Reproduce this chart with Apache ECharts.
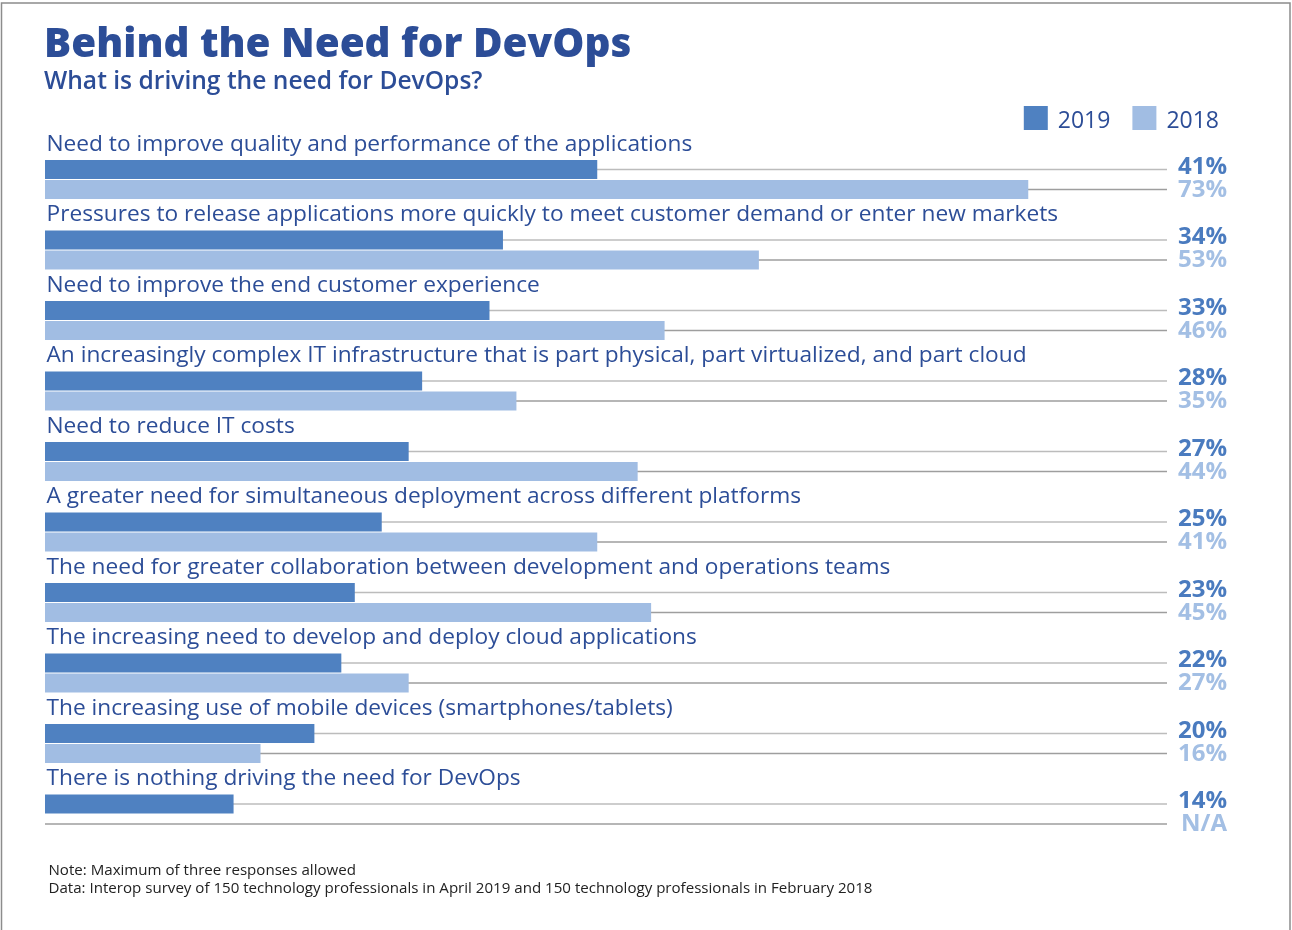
<!DOCTYPE html>
<html>
<head>
<meta charset="utf-8">
<script src="https://cdn.jsdelivr.net/npm/echarts@6/dist/echarts.min.js"></script>
<style>
  html, body { margin: 0; padding: 0; background: #fff; }
  #chart { width: 1292px; height: 930px; }
</style>
</head>
<body>
<div id="chart"></div>
<script>
const categories = [
  'Need to improve quality and performance of the applications',
  'Pressures to release applications more quickly to meet customer demand or enter new markets',
  'Need to improve the end customer experience',
  'An increasingly complex IT infrastructure that is part physical, part virtualized, and part cloud',
  'Need to reduce IT costs',
  'A greater need for simultaneous deployment across different platforms',
  'The need for greater collaboration between development and operations teams',
  'The increasing need to develop and deploy cloud applications',
  'The increasing use of mobile devices (smartphones/tablets)',
  'There is nothing driving the need for DevOps'
];
const values2019 = [41, 34, 33, 28, 27, 25, 23, 22, 20, 14];
const values2018 = [73, 53, 46, 35, 44, 41, 45, 27, 16, null];
const seriesNames = ['2019', '2018'];

const X_MAX = 83.3;
const BAR_W = 19;
const BAR_GAP = 1;
const C19 = '#4f81c1';
const C18 = '#a1bde3';
const L19 = '#4a7bbf';
const L18 = '#a3bfe4';
const TEXT = '#2c4d97';
const FONT = '"Open Sans", "Noto Sans", sans-serif';

const fmt = v => (v === null || v === undefined) ? 'N/A' : v + '%';

const chart = echarts.init(document.getElementById('chart'), null, { renderer: 'canvas' });

const option = {
  animation: false,
  backgroundColor: '#fff',
  title: [
    { text: 'Behind the Need for DevOps', left: 44, top: 25, padding: 0,
      textStyle: { fontFamily: FONT, fontSize: 40.4, fontWeight: 800, color: TEXT, lineHeight: 40 } },
    { text: 'What is driving the need for DevOps?', left: 44, top: 69, padding: 0,
      textStyle: { fontFamily: FONT, fontSize: 24.6, fontWeight: 600, color: TEXT, lineHeight: 25 } },
    { text: 'Note: Maximum of three responses allowed', left: 48.5, top: 863, padding: 0,
      textStyle: { fontFamily: FONT, fontSize: 15.1, fontWeight: 'normal', color: '#222', lineHeight: 15 } },
    { text: 'Data: Interop survey of 150 technology professionals in April 2019 and 150 technology professionals in February 2018', left: 48.5, top: 881, padding: 0,
      textStyle: { fontFamily: FONT, fontSize: 15.1, fontWeight: 'normal', color: '#222', lineHeight: 15 } }
  ],
  legend: {
    right: 73, top: 106, padding: 0,
    icon: 'rect', itemWidth: 24, itemHeight: 24, itemGap: 22,
    data: seriesNames,
    formatter: name => '{t|' + name + '}',
    textStyle: {
      fontFamily: FONT, fontSize: 23, color: TEXT,
      rich: { t: { fontFamily: FONT, fontSize: 23, color: TEXT, padding: [6, 0, 0, 5] } }
    }
  },
  grid: { left: 45, right: 125, top: 144.25, bottom: 80.75, containLabel: false },
  xAxis: {
    type: 'value', min: 0, max: X_MAX,
    show: false
  },
  yAxis: {
    type: 'category', data: categories, inverse: true,
    axisLine: { show: false }, axisTick: { show: false }, splitLine: { show: false },
    axisLabel: {
      inside: true, margin: 1.5, interval: 0, align: 'left',
      verticalAlign: 'bottom', lineHeight: 22, padding: [0, 0, 24, 0],
      fontFamily: FONT, fontSize: 22.7, color: TEXT
    }
  },
  graphic: [
    { type: 'rect', silent: true, z: 100,
      shape: { x: 1.5, y: 3, width: 1288.5, height: 940 },
      style: { fill: 'none', stroke: '#8c8c8c', lineWidth: 1.5 } }
  ],
  series: [
    {
      type: 'custom', name: 'lines', z: 1, silent: true,
      data: categories.map((c, i) => [X_MAX, i]),
      encode: { x: 0, y: 1 },
      renderItem: function (params, api) {
        const i = api.value(1);
        const right = api.coord([X_MAX, i]);
        const left = api.coord([0, i]);
        const off = (BAR_W + BAR_GAP) / 2;
        const y1 = right[1] - off;
        const y2 = right[1] + off;
        return {
          type: 'group',
          children: [
            { type: 'line', shape: { x1: left[0], y1: y1, x2: right[0], y2: y1 },
              style: { stroke: '#bcbcbc', lineWidth: 1.5 } },
            { type: 'line', shape: { x1: left[0], y1: y2, x2: right[0], y2: y2 },
              style: { stroke: '#9e9e9e', lineWidth: 1.5 } },
            { type: 'text', style: { text: fmt(values2019[i]), x: right[0] + 60, y: y1 - 2.5,
              align: 'right', verticalAlign: 'middle', font: 'bold 24px ' + FONT, fill: L19 } },
            { type: 'text', style: { text: fmt(values2018[i]), x: right[0] + 60, y: y2 + 0.5,
              align: 'right', verticalAlign: 'middle', font: 'bold 24px ' + FONT, fill: L18 } }
          ]
        };
      }
    },
    {
      name: seriesNames[0], type: 'bar', z: 2, data: values2019,
      barWidth: BAR_W, barGap: (BAR_GAP / BAR_W * 100) + '%',
      itemStyle: { color: C19 }
    },
    {
      name: seriesNames[1], type: 'bar', z: 2, data: values2018,
      barWidth: BAR_W, barGap: (BAR_GAP / BAR_W * 100) + '%',
      itemStyle: { color: C18 }
    }
  ]
};
chart.setOption(option);
</script>
</body>
</html>
